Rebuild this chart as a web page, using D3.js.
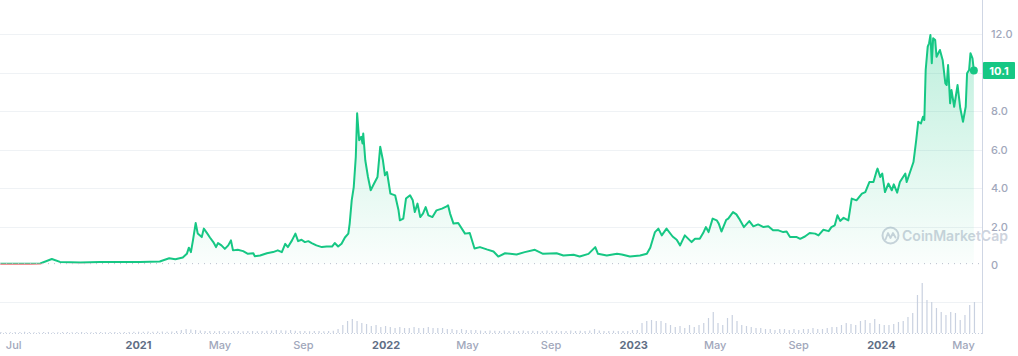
<!DOCTYPE html>
<html><head><meta charset="utf-8">
<script src="https://cdn.jsdelivr.net/npm/d3@7/dist/d3.min.js"></script>
<style>
html,body{margin:0;padding:0;background:#fff;}
svg{display:block;font-family:Inter,"Noto Sans",sans-serif;}
</style></head>
<body><svg id="c" width="1018" height="356"></svg>
<script>
const priceDates = ["2020-06-12","2020-06-25","2020-07-11","2020-07-25","2020-08-10","2020-08-27","2020-09-08","2020-10-08","2020-11-06","2020-12-06",
"2021-01-04","2021-02-02","2021-02-16","2021-02-25","2021-03-08","2021-03-14","2021-03-17","2021-03-20","2021-03-23","2021-03-27","2021-03-30",
"2021-04-05","2021-04-08","2021-04-13","2021-04-17","2021-04-22","2021-04-26","2021-04-29","2021-05-04","2021-05-09","2021-05-14","2021-05-18","2021-05-21","2021-05-28",
"2021-06-05","2021-06-12","2021-06-20","2021-06-22","2021-06-30","2021-07-10","2021-07-19","2021-07-26","2021-08-01","2021-08-06","2021-08-10","2021-08-16","2021-08-21","2021-08-25","2021-08-30",
"2021-09-04","2021-09-09","2021-09-14","2021-09-21","2021-09-29","2021-10-06","2021-10-14","2021-10-18","2021-10-23","2021-10-28","2021-11-02","2021-11-07","2021-11-09","2021-11-12","2021-11-15","2021-11-18","2021-11-20","2021-11-23","2021-11-26","2021-11-28","2021-11-29",
"2021-12-02","2021-12-06","2021-12-10","2021-12-15","2021-12-20","2021-12-24","2021-12-28","2021-12-31",
"2022-01-03","2022-01-08","2022-01-15","2022-01-20","2022-01-22","2022-01-27","2022-01-31","2022-02-06","2022-02-10","2022-02-13","2022-02-17","2022-02-21","2022-02-25","2022-03-01","2022-03-05","2022-03-11","2022-03-17","2022-03-25",
"2022-04-01","2022-04-03","2022-04-06","2022-04-11","2022-04-18","2022-04-28","2022-05-05","2022-05-12","2022-05-20","2022-05-30","2022-06-09","2022-06-16","2022-06-26","2022-07-13","2022-07-25","2022-08-09","2022-08-21","2022-09-10","2022-09-20","2022-10-05","2022-10-14","2022-10-27","2022-11-06","2022-11-10","2022-11-23","2022-12-08","2022-12-15","2022-12-27",
"2023-01-11","2023-01-21","2023-01-26","2023-02-02","2023-02-07","2023-02-12","2023-02-19","2023-02-28","2023-03-06","2023-03-11","2023-03-18","2023-03-28","2023-04-02","2023-04-09","2023-04-14","2023-04-18","2023-04-22","2023-04-28","2023-05-04","2023-05-07","2023-05-11","2023-05-18","2023-05-21","2023-05-28",
"2023-06-02","2023-06-06","2023-06-13","2023-06-21","2023-06-27","2023-07-04","2023-07-12","2023-07-19","2023-07-26","2023-08-03","2023-08-10","2023-08-15","2023-08-20","2023-08-30","2023-09-04","2023-09-11","2023-09-18","2023-09-26","2023-10-01","2023-10-08","2023-10-16","2023-10-20","2023-10-25","2023-10-29",
"2023-11-02","2023-11-07","2023-11-14","2023-11-19","2023-11-26","2023-12-04","2023-12-09","2023-12-15","2023-12-21","2023-12-26","2023-12-27","2023-12-31",
"2024-01-03","2024-01-07","2024-01-12","2024-01-17","2024-01-20","2024-01-25","2024-01-29","2024-02-06","2024-02-08","2024-02-13","2024-02-18","2024-02-22","2024-02-25","2024-02-29","2024-03-03","2024-03-05","2024-03-07","2024-03-10","2024-03-12","2024-03-14","2024-03-16","2024-03-18","2024-03-21","2024-03-23","2024-03-28",
"2024-04-01","2024-04-05","2024-04-07","2024-04-09","2024-04-12","2024-04-14","2024-04-18","2024-04-23","2024-04-27","2024-05-01","2024-05-05","2024-05-07","2024-05-10","2024-05-12","2024-05-15","2024-05-17"];
const priceValues = [0.07,0.06,0.06,0.06,0.08,0.31,0.16,0.13,0.16,0.16,
0.16,0.18,0.35,0.30,0.39,0.58,0.90,0.67,1.28,2.18,1.64,
1.45,1.89,1.64,1.43,1.19,0.93,1.14,1.02,0.84,1.02,1.28,0.76,0.79,
0.72,0.58,0.61,0.46,0.49,0.61,0.67,0.76,0.67,1.10,0.93,1.28,1.63,1.24,1.31,
1.19,1.24,1.14,1.02,0.93,0.96,0.96,1.14,0.96,1.10,1.43,1.63,2.15,3.36,4.05,5.61,7.88,6.48,6.66,6.31,6.83,
5.44,4.57,3.88,4.23,4.57,6.14,5.44,4.66,
4.83,3.71,3.62,2.84,2.32,2.41,3.45,3.62,3.36,2.75,3.19,2.49,2.67,3.01,2.58,2.49,2.84,2.93,
3.05,3.10,2.67,2.15,2.18,1.63,1.66,0.86,0.93,0.81,0.70,0.44,0.61,0.55,0.67,0.79,0.58,0.61,0.49,0.53,0.44,0.58,0.93,0.58,0.49,0.58,0.55,0.44,
0.49,0.58,0.90,1.71,1.89,1.54,1.89,1.48,1.31,1.02,1.54,1.19,1.36,1.36,1.66,1.97,1.71,2.41,2.32,2.15,1.74,2.35,2.41,2.75,
2.63,2.41,1.97,2.28,2.01,2.11,1.97,2.01,1.80,1.80,1.71,1.74,1.45,1.45,1.36,1.48,1.66,1.63,1.54,1.83,1.76,1.97,2.06,2.58,
2.29,2.45,2.32,3.45,3.36,3.71,3.79,4.31,4.31,4.92,5.01,4.57,
4.75,3.79,4.23,3.88,4.19,3.76,4.31,4.75,4.31,4.83,5.35,6.48,7.44,7.35,7.70,7.53,10.13,11.34,11.52,11.95,10.48,11.78,11.69,10.82,11.17,
10.65,9.44,9.35,10.39,8.40,9.09,8.22,9.35,8.14,7.44,8.22,9.96,10.13,11.00,10.74,10.10];

// weekly traded volume (USD millions), weeks starting 2020-06-12
const volumeStart = "2020-06-12";
const volumeValues = [
20,15,15,20,20,25,20,15,15,20,
20,15,15,20,20,15,20,20,15,15,
20,20,15,20,20,15,20,20,25,
25,25,30,25,30,30,25,30,
40,60,80,70,60,50,
40,40,35,40,40,35,40,40,35,40,40,35,40,
45,50,60,55,50,60,45,40,
40,35,40,40,35,40,45,
80,160,240,280,240,200,180,
140,160,120,140,120,100,120,100,100,120,100,100,120,100,100,
100,80,80,60,80,60,60,60,
50,40,50,45,40,50,40,45,40,50,40,45,40,40,50,40,45,40,40,50,40,45,40,50,80,50,40,40,45,40,
40,40,60,
60,200,240,260,240,240,200,160,
120,140,100,160,120,
160,200,300,420,
200,160,300,360,240,
160,140,120,100,100,
80,80,60,80,80,60,80,60,80,80,100,80,80,
100,120,120,160,200,
180,160,240,260,200,280,
180,160,160,180,220,240,
320,400,760,1000,660,620,500,420,360,420,400,260,360,560,620];

const xTickDates = ["2020-07-01","2021-01-01","2021-05-01","2021-09-01","2022-01-01","2022-05-01","2022-09-01","2023-01-01","2023-05-01","2023-09-01","2024-01-01","2024-05-01"];
const xTickLabels = ["Jul","2021","May","Sep","2022","May","Sep","2023","May","Sep","2024","May"];
const yGridTicks = [2,4,6,8,10,12];
const yLabelTicks = [0,2,4,6,8,12];
const yTickLabels = ["0","2.0","4.0","6.0","8.0","12.0"];
const lastPriceLabel = "10.1";

const parse = d3.utcParse("%Y-%m-%d");
const data = priceDates.map((d,i)=>({date:parse(d), v:priceValues[i]}));
const v0 = parse(volumeStart);
const vol = volumeValues.map((v,i)=>({date:d3.utcDay.offset(v0, 7*i), v}));

const svg = d3.select("#c");
const x = d3.scaleUtc().domain([parse("2021-01-01"), parse("2024-05-01")]).range([138, 963]);
const y = d3.scaleLinear().domain([0,12]).range([265,34]);
const yv = d3.scaleLinear().domain([0,1000]).range([333,283]);
const plotRight = 982;
const green = "#16c784", red = "#ea3943";
const basePrice = priceValues[0];
const yBase = y(basePrice);

const defs = svg.append("defs");
const grad = defs.append("linearGradient").attr("id","g").attr("gradientUnits","userSpaceOnUse")
  .attr("x1",0).attr("x2",0).attr("y1",34).attr("y2",yBase);
grad.append("stop").attr("offset",0).attr("stop-color",green).attr("stop-opacity",0.28);
grad.append("stop").attr("offset",1).attr("stop-color",green).attr("stop-opacity",0.02);
defs.append("clipPath").attr("id","above").append("rect").attr("x",0).attr("y",0).attr("width",plotRight).attr("height",yBase);
defs.append("clipPath").attr("id","below").append("rect").attr("x",0).attr("y",yBase).attr("width",plotRight).attr("height",60);

// gridlines
svg.append("g").selectAll("line").data(yGridTicks).join("line")
  .attr("x1",0).attr("x2",plotRight).attr("y1",d=>Math.round(y(d))+0.5).attr("y2",d=>Math.round(y(d))+0.5)
  .attr("stroke","#eff2f5").attr("stroke-width",1);
// volume gridline
svg.append("line").attr("x1",0).attr("x2",plotRight).attr("y1",302.5).attr("y2",302.5).attr("stroke","#eff2f5");

// watermark
const wm = svg.append("g").attr("opacity",0.55);
wm.append("circle").attr("cx",890.5).attr("cy",235.5).attr("r",8).attr("fill","none").attr("stroke","#a6b0c3").attr("stroke-width",2);
wm.append("path").attr("d","M885.5,239.5 L888,233 L890.5,238 L893,233 L895.5,237.5").attr("fill","none").attr("stroke","#a6b0c3").attr("stroke-width",1.8).attr("stroke-linejoin","round").attr("stroke-linecap","round");
wm.append("text").attr("x",902).attr("y",241).attr("font-size",14.5).attr("font-weight",600).attr("fill","#a6b0c3")
  .attr("textLength",106).attr("lengthAdjust","spacingAndGlyphs").text("CoinMarketCap");

// area + line
const area = d3.area().x(d=>x(d.date)).y0(yBase).y1(d=>y(d.v)).curve(d3.curveLinear);
const line = d3.line().x(d=>x(d.date)).y(d=>y(d.v)).curve(d3.curveLinear);
svg.append("path").datum(data).attr("d",area).attr("fill","url(#g)").attr("clip-path","url(#above)");
svg.append("path").datum(data).attr("d",line).attr("fill","none").attr("stroke",green).attr("stroke-width",2).attr("stroke-linejoin","round").attr("clip-path","url(#above)");
svg.append("path").datum(data).attr("d",line).attr("fill","none").attr("stroke",red).attr("stroke-opacity",0.75).attr("stroke-width",2).attr("stroke-linejoin","round").attr("clip-path","url(#below)");

// start-price dotted line
svg.append("line").attr("x1",0).attr("x2",plotRight).attr("y1",yBase).attr("y2",yBase)
  .attr("stroke","#b8bfcc").attr("stroke-width",1).attr("stroke-dasharray","1,5");

// volume bars
svg.append("g").selectAll("rect").data(vol).join("rect")
  .attr("x",d=>x(d.date)).attr("width",1.2)
  .attr("y",d=>yv(d.v)).attr("height",d=>333-yv(d.v)).attr("fill","#c9d1e0");
svg.append("line").attr("x1",0).attr("x2",plotRight).attr("y1",333.5).attr("y2",333.5)
  .attr("stroke","#c9d1e0").attr("stroke-dasharray","1,2");

// right axis line
svg.append("line").attr("x1",plotRight+0.5).attr("x2",plotRight+0.5).attr("y1",0).attr("y2",334).attr("stroke","#cfd6e4");

// y axis labels
const yAxis = d3.axisRight(y).tickValues(yLabelTicks).tickFormat((d,i)=>yTickLabels[i]).tickSize(0).tickPadding(9);
const ya = svg.append("g").attr("transform",`translate(${plotRight},0)`).call(yAxis);
ya.select(".domain").remove();
ya.selectAll("text").attr("font-family","Inter,sans-serif").attr("font-size",11).attr("font-weight",500).attr("fill","#a1a7bb");

// x axis labels
const xAxis = d3.axisBottom(x).tickValues(xTickDates.map(parse)).tickFormat((d,i)=>xTickLabels[i]).tickSize(0).tickPadding(0);
const xa = svg.append("g").attr("transform","translate(0,341)").call(xAxis);
xa.select(".domain").remove();
xa.selectAll("text").attr("font-family","Inter,sans-serif").attr("font-size",11)
  .attr("font-weight",(d,i)=>/^\d{4}$/.test(xTickLabels[i])?700:500)
  .attr("fill",(d,i)=>/^\d{4}$/.test(xTickLabels[i])?"#616e85":"#a1a7bb");

// last price dot + badge
const last = data[data.length-1];
svg.append("circle").attr("cx",x(last.date)).attr("cy",y(last.v)).attr("r",4).attr("fill",green);
const bg = svg.append("g").attr("transform",`translate(${plotRight+1},${y(last.v)})`);
bg.append("rect").attr("x",0).attr("y",-8.5).attr("width",32).attr("height",17).attr("rx",1).attr("fill",green);
bg.append("text").attr("x",16).attr("y",0).attr("dy","0.36em").attr("text-anchor","middle")
  .attr("font-size",11).attr("font-weight",700).attr("fill","#fff").text(lastPriceLabel);
</script></body></html>
